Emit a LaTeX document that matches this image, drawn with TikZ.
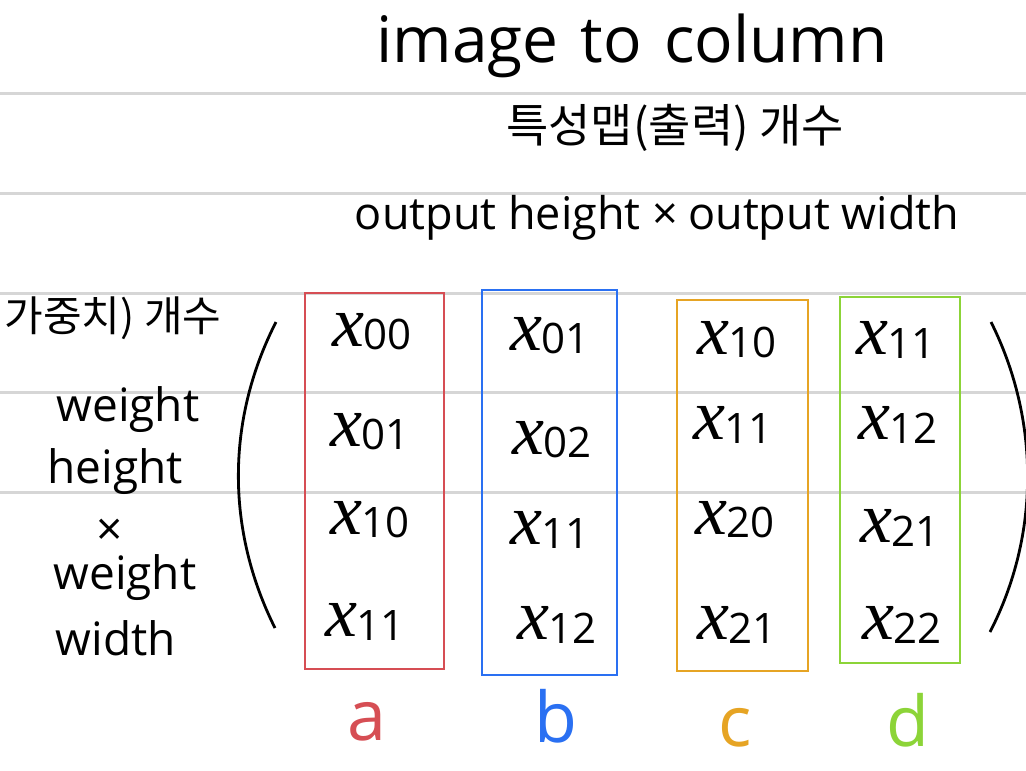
\documentclass[tikz,border=0pt]{standalone}
\usepackage{fontspec}
\setmainfont{Open Sans}
\newfontfamily\krfont{Noto Sans CJK KR}
\newfontfamily\varfont{Liberation Serif}
\definecolor{rulegray}{RGB}{214,214,214}
\definecolor{colred}{RGB}{214,78,84}
\definecolor{colblue}{RGB}{42,112,242}
\definecolor{colorange}{RGB}{230,164,36}
\definecolor{colgreen}{RGB}{140,212,56}
\newcommand{\xs}[1]{{\varfont\itshape\fontsize{72}{76}\selectfont x}\raisebox{-0.32em}{\fontsize{42}{46}\selectfont #1}}
\tikzset{
  rule/.style={draw=rulegray, line width=3pt},
  colbox/.style={draw=#1, line width=2.5pt, inner sep=0pt},
  entry/.style={inner sep=0pt},
  lbl/.style={text=#1, font=\fontsize{70}{76}\selectfont, inner sep=0pt},
  side/.style={font=\fontsize{46}{50}\selectfont},
  paren/.style={line width=2.8pt}
}
\begin{document}
\begin{tikzpicture}[x=1pt,y=-1pt]
    \useasboundingbox (0,0) rectangle (1026,771);
    \foreach \y in {93,193,293,392,492}
      \draw[rule] (0,\y) -- (1026,\y);

    % headings
    \node[font=\fontsize{64}{70}\selectfont] (title) at (632,46) {image\hspace{22pt}to\hspace{22pt}column};
    \node[font=\krfont\fontsize{46}{50}\selectfont] (fmap) at (675,128) {특성맵(출력) 개수};
    \node[font=\fontsize{45}{50}\selectfont] (outsize) at (657,218) {output height ×\hspace{10pt}output width};

    % left side
    \node[font=\krfont\fontsize{42}{46}\selectfont] (wcount) at (113,318) {가중치) 개수};
    \node[side] (w1) at (128,410) {weight};
    \node[side] (w2) at (115,472) {height};
    \node[side] (w3) at (110,532) {×};
    \node[side] (w4) at (125,578) {weight};
    \node[side] (w5) at (116,638) {width};

    % brackets
    \coordinate (lt) at (276,322);
    \coordinate (lb) at (275,628);
    \coordinate (rt) at (991,322);
    \coordinate (rb) at (990,632);
    \draw[paren] (lt) .. controls (226,420) and (226,530) .. (lb);
    \draw[paren] (rt) .. controls (1040,420) and (1040,535) .. (rb);

    % columns
    \node[colbox=colred, minimum width=139pt, minimum height=376pt] (boxa) at (374.5,481) {};
    \node[colbox=colblue, minimum width=135pt, minimum height=385pt] (boxb) at (549.5,482.5) {};
    \node[colbox=colorange, minimum width=131pt, minimum height=371pt] (boxc) at (742.5,485.5) {};
    \node[colbox=colgreen, minimum width=120pt, minimum height=366pt] (boxd) at (900,480) {};

    \node[entry] (a1) at (372,332) {\xs{00}};
    \node[entry] (a2) at (370,432) {\xs{01}};
    \node[entry] (a3) at (370,520) {\xs{10}};
    \node[entry] (a4) at (365,622) {\xs{11}};

    \node[entry] (b1) at (550,336) {\xs{01}};
    \node[entry] (b2) at (552,440) {\xs{02}};
    \node[entry] (b3) at (550,530) {\xs{11}};
    \node[entry] (b4) at (557,625) {\xs{12}};

    \node[entry] (c1) at (737,340) {\xs{10}};
    \node[entry] (c2) at (733,425) {\xs{11}};
    \node[entry] (c3) at (735,520) {\xs{20}};
    \node[entry] (c4) at (737,625) {\xs{21}};

    \node[entry] (d1) at (896,340) {\xs{11}};
    \node[entry] (d2) at (898,425) {\xs{12}};
    \node[entry] (d3) at (900,528) {\xs{21}};
    \node[entry] (d4) at (902,625) {\xs{22}};

    % column names
    \node[lbl=colred] (la) at (367,722) {a};
    \node[lbl=colblue] (lb) at (556,716) {b};
    \node[lbl=colorange] (lc) at (735,728) {c};
    \node[lbl=colgreen] (ld) at (908,720) {d};
  \end{tikzpicture}
\end{document}
